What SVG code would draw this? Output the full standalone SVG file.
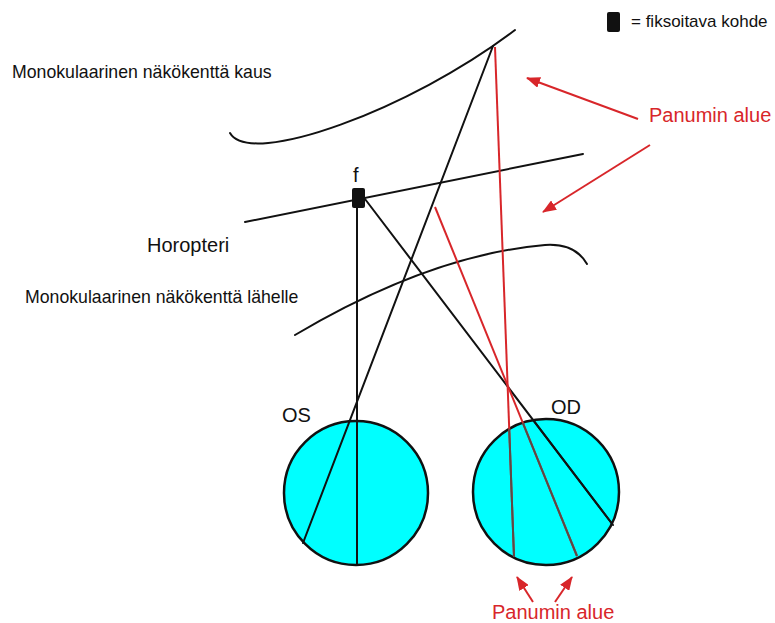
<svg xmlns="http://www.w3.org/2000/svg" width="775" height="623" viewBox="0 0 775 623">
  <style>
    .txt { font-family: "Liberation Sans", Arial, sans-serif; fill: #111; }
    .red-txt { font-family: "Liberation Sans", Arial, sans-serif; fill: #d8262a; font-size: 20px; }
    .ln { fill: none; stroke: #111; stroke-width: 2; stroke-linecap: round; }
    .ray { fill: none; stroke: #d8262a; stroke-width: 2; }
    .ray-in { fill: none; stroke: #5a4a46; stroke-width: 2; }
    .eye { fill: #00ffff; stroke: #111; stroke-width: 2.5; }
    .pointer { fill: none; stroke: #d8262a; stroke-width: 2; marker-end: url(#head); }
  </style>
  <defs>
    <marker id="head" viewBox="0 0 14 11" refX="13" refY="5.5" markerWidth="14" markerHeight="11" markerUnits="userSpaceOnUse" orient="auto">
      <path d="M0,0 L14,5.5 L0,11 Z" fill="#d8262a"/>
    </marker>
    <clipPath id="clipOD"><circle cx="546" cy="492" r="73"/></clipPath>
  </defs>

  <rect width="775" height="623" fill="#fff"/>

  <!-- legend -->
  <g id="legend">
    <rect x="607" y="12" width="13" height="20" rx="2" fill="#111"/>
    <text class="txt" x="631" y="27" font-size="17">= fiksoitava kohde</text>
  </g>

  <!-- field boundaries and horopter -->
  <g id="far-field">
    <path class="ln" d="M230,133 C250,168 410,110 515,30"/>
    <text class="txt" x="12" y="78" font-size="17.7">Monokulaarinen näkökenttä kaus</text>
  </g>
  <g id="horopter">
    <path class="ln" d="M245,222 L583,154"/>
    <text class="txt" x="147" y="252" font-size="20">Horopteri</text>
  </g>
  <g id="near-field">
    <path class="ln" d="M295,335 Q430,255 545,245 Q575,243 587,264"/>
    <text class="txt" x="25" y="303" font-size="17.7">Monokulaarinen näkökenttä lähelle</text>
  </g>

  <!-- eyes -->
  <g id="eye-os">
    <circle class="eye" cx="356" cy="493" r="72"/>
    <text class="txt" x="282" y="422" font-size="20">OS</text>
  </g>
  <g id="eye-od">
    <circle class="eye" cx="546" cy="492" r="73"/>
    <text class="txt" x="551" y="414" font-size="20">OD</text>
  </g>

  <!-- visual rays -->
  <g id="connectors">
    <path class="ln" d="M357,208 L357,564"/>
    <path class="ln" d="M493,46 L303,543"/>
    <path class="ln" d="M365,199 L613,525"/>
    <path class="ray" d="M495,47 L514,557"/>
    <path class="ray" d="M435,207 L577,556"/>
    <g clip-path="url(#clipOD)">
      <path class="ray-in" d="M495,47 L514,557"/>
      <path class="ray-in" d="M435,207 L577,556"/>
      <path class="ln" d="M365,199 L613,525"/>
    </g>
  </g>

  <!-- fixation point -->
  <g id="fixation">
    <rect x="352" y="188" width="13" height="20" rx="2" fill="#111"/>
    <text class="txt" x="353" y="182" font-size="20">f</text>
  </g>

  <!-- Panum's area labels -->
  <g id="panum-upper">
    <path class="pointer" d="M638,119 L527,78"/>
    <path class="pointer" d="M650,145 L543,212"/>
    <text class="red-txt" x="649" y="122">Panumin alue</text>
  </g>
  <g id="panum-lower">
    <path class="pointer" d="M533,602 L517,577"/>
    <path class="pointer" d="M555,602 L572,577"/>
    <text class="red-txt" x="492" y="619">Panumin alue</text>
  </g>
</svg>
